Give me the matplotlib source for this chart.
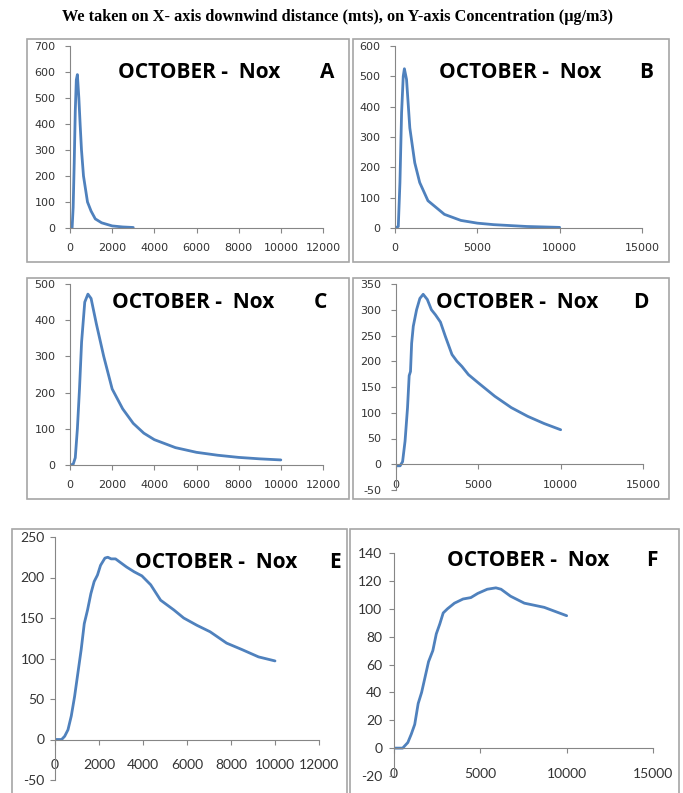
import matplotlib.pyplot as plt
from matplotlib.patches import Rectangle

plt.rcParams["axes.unicode_minus"] = False

# downwind distance (m) and NOx concentration (ug/m3)
a_x = [0, 100, 150, 200, 250, 300, 350, 420, 480, 545, 640, 830, 1000, 1200, 1500, 2000, 2500, 3000]
a_y = [0, 0, 80, 250, 450, 570, 590, 500, 400, 300, 200, 100, 65, 35, 20, 8, 4, 2]

b_x = [0, 200, 300, 400, 500, 570, 700, 900, 1200, 1500, 2000, 3000, 4000, 5000, 6000, 7000, 8000, 10000]
b_y = [0, 5, 150, 380, 500, 525, 490, 330, 215, 150, 90, 45, 25, 16, 11, 8, 5, 2]

c_x = [0, 150, 250, 350, 450, 550, 700, 850, 1000, 1250, 1600, 2000, 2500, 3000, 3500, 4000, 5000, 6000, 7000, 8000, 9000, 10000]
c_y = [0, 2, 20, 100, 210, 340, 450, 472, 460, 390, 300, 210, 155, 115, 88, 70, 48, 35, 27, 21, 17, 14]

d_x = [0, 250, 400, 550, 700, 800, 880, 950, 1050, 1250, 1450, 1650, 1900, 2150, 2400, 2700, 3000,
       3400, 3700, 4000, 4400, 5000, 6000, 7000, 8000, 9000, 10000]
d_y = [-3, -3, 5, 45, 110, 172, 180, 235, 268, 300, 322, 330, 320, 300, 290, 276, 248,
       213, 200, 190, 174, 158, 132, 110, 93, 79, 67]

e_x = [0, 300, 440, 590, 740, 890, 1040, 1190, 1330, 1480, 1630, 1780, 1930, 2070, 2270, 2400, 2550,
       2750, 2950, 3250, 3600, 3950, 4350, 4800, 5400, 5850, 6450, 7050, 7800, 8500, 9250, 10000]
e_y = [0, 0, 4, 12, 29, 53, 82, 111, 143, 160, 180, 195, 203, 215, 224, 225, 223,
       223, 219, 213, 207, 202, 191, 172, 160, 150, 141, 133, 119, 111, 102, 97]

f_x = [0, 500, 800, 1000, 1200, 1400, 1600, 1800, 2000, 2250, 2450, 2650, 2850, 3100, 3500, 4000,
       4450, 4850, 5400, 5900, 6200, 6750, 7550, 8700, 10000]
f_y = [0, 0, 4, 10, 17, 32, 40, 51, 62, 70, 82, 89, 97, 100, 104, 107,
       108, 111, 114, 115, 114, 109, 104, 101, 95]

W, H = 683, 793
LINE = "#4F81BD"
FRAME = "#a6a6a6"
AXIS = "#868686"

fig = plt.figure(figsize=(W / 100, H / 100), dpi=100)


def frame(x0, y0, x1, y1):
    fig.patches.append(Rectangle((x0 / W, 1 - y1 / H), (x1 - x0) / W, (y1 - y0) / H,
                                 transform=fig.transFigure, fill=False,
                                 edgecolor=FRAME, lw=1.2))


def panel(box, xs, ys, xmax, xstep, ylim, ystep, letter, txt_x, txt_y, let_x,
          tick_font, tick_size, xpad, ypad):
    x0, y0, x1, y1 = box
    ax = fig.add_axes([x0 / W, 1 - y1 / H, (x1 - x0) / W, (y1 - y0) / H])
    ax.plot(xs, ys, color=LINE, lw=2.0, solid_capstyle="round", solid_joinstyle="round")
    ax.set_xlim(0, xmax)
    ax.set_ylim(*ylim)
    ax.set_xticks(range(0, xmax + 1, xstep))
    ax.set_yticks(range(ylim[0], ylim[1] + 1, ystep))
    for s in ["top", "right"]:
        ax.spines[s].set_visible(False)
    ax.spines["bottom"].set_position(("data", 0))
    for s in ["left", "bottom"]:
        ax.spines[s].set_color(AXIS)
        ax.spines[s].set_linewidth(0.8)
    ax.tick_params(direction="out", length=3.5, width=0.8, color=AXIS,
                   labelcolor="#333333")
    ax.tick_params(axis="x", pad=xpad)
    ax.tick_params(axis="y", pad=ypad)
    for lab in ax.get_xticklabels() + ax.get_yticklabels():
        lab.set_fontfamily(tick_font)
        lab.set_fontsize(tick_size)
    ax.patch.set_alpha(0)
    fig.text(txt_x / W, 1 - txt_y / H, "OCTOBER -  Nox", fontfamily="Open Sans",
             fontweight="bold", fontsize=15, ha="left", va="center")
    fig.text(let_x / W, 1 - txt_y / H, letter, fontfamily="Open Sans",
             fontweight="bold", fontsize=15, ha="center", va="center")
    return ax


fig.text(338 / W, 1 - 17 / H,
         "We taken on X- axis downwind distance (mts), on Y-axis Concentration (\u03bcg/m3)",
         fontfamily="Liberation Serif", fontweight="bold", fontsize=11.7,
         ha="center", va="center")

frame(27, 39, 349, 262)
frame(353, 39, 669, 262)
frame(27, 278, 349, 499)
frame(353, 278, 669, 499)
frame(12, 529, 347, 820)
frame(350, 529, 679, 820)

panel((70, 46, 323, 228), a_x, a_y, 12000, 2000, (0, 700), 100, "A", 118, 72, 327, "DejaVu Sans", 8, 7.5, 7)
panel((395, 46, 642, 228), b_x, b_y, 15000, 5000, (0, 600), 100, "B", 439, 72, 646, "DejaVu Sans", 8, 7.5, 7)
panel((70, 284, 323, 465), c_x, c_y, 12000, 2000, (0, 500), 100, "C", 112, 303, 320, "DejaVu Sans", 8, 7.5, 7)
panel((396, 284, 643, 490), d_x, d_y, 15000, 5000, (-50, 350), 50, "D", 436, 303, 641, "DejaVu Sans", 8, 7.5, 7)
panel((55, 537, 319, 780), e_x, e_y, 12000, 2000, (-50, 250), 50, "E", 135, 562, 335, "Lato", 10, 10.5, 4)
panel((394, 553, 653, 776), f_x, f_y, 15000, 5000, (-20, 140), 20, "F", 447, 560, 652, "Lato", 10, 10.5, 5)

fig.savefig("out.png", dpi=100)
